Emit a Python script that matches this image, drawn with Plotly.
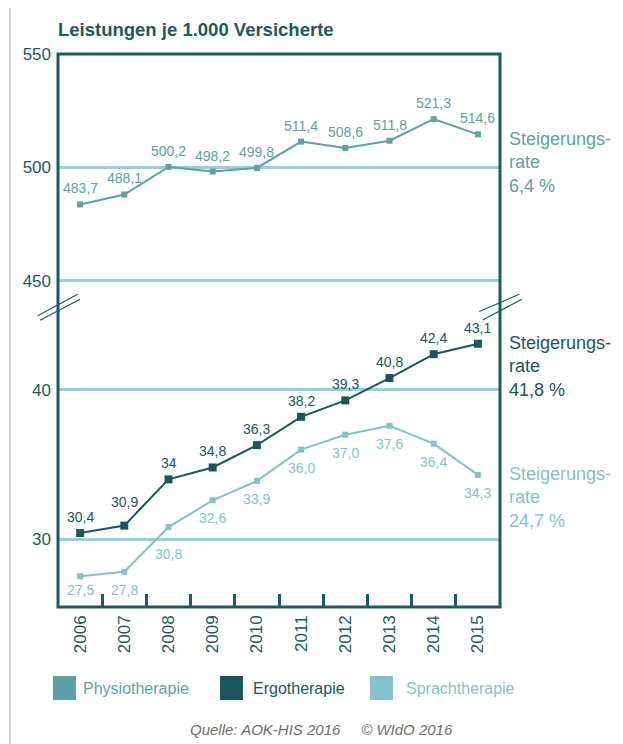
import plotly.graph_objects as go

# ---------------- data ----------------
years = ["2006", "2007", "2008", "2009", "2010", "2011", "2012", "2013", "2014", "2015"]
physio = [483.7, 488.1, 500.2, 498.2, 499.8, 511.4, 508.6, 511.8, 521.3, 514.6]
ergo = [30.4, 30.9, 34.0, 34.8, 36.3, 38.2, 39.3, 40.8, 42.4, 43.1]
sprach = [27.5, 27.8, 30.8, 32.6, 33.9, 36.0, 37.0, 37.6, 36.4, 34.3]
physio_labels = ["483,7", "488,1", "500,2", "498,2", "499,8", "511,4", "508,6", "511,8", "521,3", "514,6"]
ergo_labels = ["30,4", "30,9", "34", "34,8", "36,3", "38,2", "39,3", "40,8", "42,4", "43,1"]
sprach_labels = ["27,5", "27,8", "30,8", "32,6", "33,9", "36,0", "37,0", "37,6", "36,4", "34,3"]
series_names = ["Physiotherapie", "Ergotherapie", "Sprachtherapie"]
rates = ["6,4 %", "41,8 %", "24,7 %"]
top_ticks = [450, 500, 550]
bottom_ticks = [30, 40]

# ---------------- style ----------------
C_PHYSIO = "#5aa2a6"
C_ERGO = "#17575d"
C_SPRACH = "#82c2cb"
C_GRID = "#93d2db"
C_DARK = "#1a5a60"
FONT = "Liberation Sans, Arial, sans-serif"

# label offsets in pixels (style): default per series, with a few manual nudges
LABEL_SHIFT = {"physio": 16, "ergo": 16, "sprach": -18}
LABEL_NUDGE = {("ergo", "2007"): 24, ("sprach", "2008"): -27, ("sprach", "2006"): -14}

OFF = 8                          # browser body margin
PAGE_W, PAGE_H = 623, 744
W, H = PAGE_W - OFF, PAGE_H - OFF
L, R, T, B = 58, 500, 54, 607    # plot area in page pixels


def px(x):
    return (x - L) / (R - L)


def py(y):
    return (B - y) / (B - T)


split = py(305)

fig = go.Figure()

fig.add_trace(go.Scatter(
    x=years, y=physio, yaxis="y2", mode="lines+markers",
    line=dict(color=C_PHYSIO, width=2), marker=dict(symbol="square", size=6, color=C_PHYSIO),
    showlegend=False))
fig.add_trace(go.Scatter(
    x=years, y=ergo, yaxis="y", mode="lines+markers",
    line=dict(color=C_ERGO, width=2), marker=dict(symbol="square", size=8, color=C_ERGO),
    showlegend=False))
fig.add_trace(go.Scatter(
    x=years, y=sprach, yaxis="y", mode="lines+markers",
    line=dict(color=C_SPRACH, width=2), marker=dict(symbol="square", size=6, color=C_SPRACH),
    showlegend=False))

fig.update_layout(
    width=W, height=H,
    margin=dict(l=L - OFF, r=PAGE_W - R, t=T - OFF, b=PAGE_H - B, pad=0),
    paper_bgcolor="white", plot_bgcolor="white",
    font=dict(family=FONT, color=C_DARK),
    xaxis=dict(
        type="category", categoryorder="array", categoryarray=years,
        range=[-0.5, 9.5], showgrid=False, zeroline=False, showline=False,
        ticks="inside", tickson="boundaries", ticklen=13, tickwidth=2.5, tickcolor=C_DARK,
        tickangle=-90, tickfont=dict(size=17, color=C_DARK), anchor="y", fixedrange=True,
        ticklabelstandoff=4),
    yaxis=dict(
        domain=[0, split], range=[25.44, 45.70], tickvals=bottom_ticks,
        ticktext=[str(v) for v in bottom_ticks],
        showgrid=True, gridcolor=C_GRID, gridwidth=3, zeroline=False, showline=False,
        ticks="", tickfont=dict(size=17, color=C_DARK), anchor="x", ticklabelstandoff=6),
    yaxis2=dict(
        domain=[split, 1], range=[439.4, 550], tickvals=top_ticks,
        ticktext=[str(v) for v in top_ticks],
        showgrid=True, gridcolor=C_GRID, gridwidth=3, zeroline=False, showline=False,
        ticks="", tickfont=dict(size=17, color=C_DARK), anchor="x", ticklabelstandoff=6),
)

shapes = []
# outer light frame (left and top edges)
shapes.append(dict(type="line", xref="paper", yref="paper", x0=px(10), x1=px(10), y0=py(7), y1=py(760),
                   line=dict(color="#c4c4c4", width=1.5)))
shapes.append(dict(type="line", xref="paper", yref="paper", x0=px(10), x1=px(640), y0=py(7), y1=py(7),
                   line=dict(color="#c4c4c4", width=1.5)))
# plot box
shapes.append(dict(type="rect", xref="paper", yref="paper", x0=0, x1=1, y0=0, y1=1,
                   line=dict(color=C_DARK, width=3)))
# axis break marks
for (x0, y0, x1, y1) in [(37.7, 315.7, 77.7, 294.3), (40, 320.3, 80, 299.3),
                         (479.3, 311.5, 519.3, 294.3), (482.7, 320.0, 521.7, 299.3)]:
    shapes.append(dict(type="line", xref="paper", yref="paper", x0=px(x0), y0=py(y0), x1=px(x1), y1=py(y1),
                       line=dict(color=C_DARK, width=1.2)))
# legend squares
for xs, col in [(53, C_PHYSIO), (220, C_ERGO), (370, C_SPRACH)]:
    shapes.append(dict(type="rect", xref="paper", yref="paper", x0=px(xs), x1=px(xs + 23),
                       y0=py(700), y1=py(676), fillcolor=col, line=dict(width=0)))
fig.update_layout(shapes=shapes)

ann = []
# data labels, placed on the data through the axes (category index on x)
for key, vals, labels, col, yref in [("physio", physio, physio_labels, C_PHYSIO, "y2"),
                                      ("ergo", ergo, ergo_labels, C_ERGO, "y"),
                                      ("sprach", sprach, sprach_labels, C_SPRACH, "y")]:
    for i, (yr, v, lab) in enumerate(zip(years, vals, labels)):
        shift = LABEL_NUDGE.get((key, yr), LABEL_SHIFT[key])
        ann.append(dict(text=lab, x=i, y=v, xref="x", yref=yref, showarrow=False,
                        xanchor="center", yanchor="middle", yshift=shift,
                        font=dict(size=14, color=col, family=FONT)))

ann.append(dict(text="<b>Leistungen je 1.000 Versicherte</b>", xref="paper", yref="paper",
                x=px(56), y=py(30), xanchor="left", yanchor="middle", showarrow=False,
                font=dict(size=18.5, color=C_DARK, family=FONT)))
for rate, col, ytop in [(rates[0], C_PHYSIO, 127), (rates[1], C_ERGO, 331), (rates[2], C_SPRACH, 462)]:
    ann.append(dict(text="Steigerungs-<br>rate<br>" + rate, xref="paper", yref="paper",
                    x=px(507), y=py(ytop), xanchor="left", yanchor="top", align="left", showarrow=False,
                    font=dict(size=18, color=col, family=FONT)))
for name, xs, col in [(series_names[0], 81, C_PHYSIO), (series_names[1], 251, C_ERGO), (series_names[2], 404, C_SPRACH)]:
    ann.append(dict(text=name, xref="paper", yref="paper", x=px(xs), y=py(688),
                    xanchor="left", yanchor="middle", showarrow=False,
                    font=dict(size=16, color=col, family=FONT)))
ann.append(dict(text="<i>Quelle: AOK-HIS 2016     \u00a9 WIdO 2016</i>", xref="paper", yref="paper",
                x=px(321), y=py(729), xanchor="center", yanchor="middle", showarrow=False,
                font=dict(size=15, color="#6e6e6e", family=FONT)))
fig.update_layout(annotations=ann)

fig.write_html("out.html")
